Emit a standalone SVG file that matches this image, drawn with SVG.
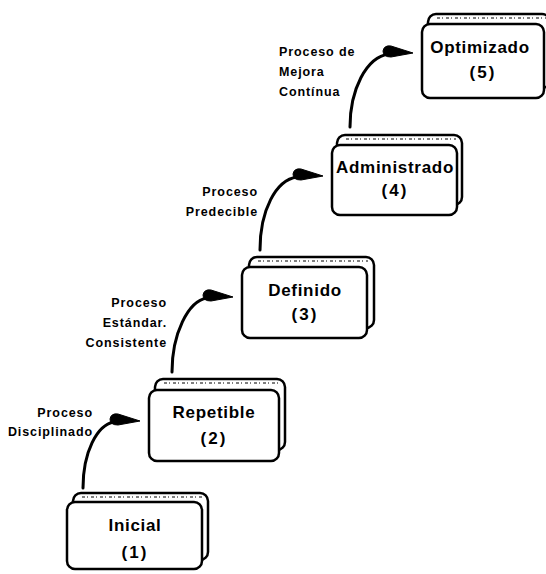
<svg xmlns="http://www.w3.org/2000/svg" width="546" height="574" viewBox="0 0 546 574">
<defs>
<style>
.bg{fill:#fff}
.back{fill:#fff;stroke:#000;stroke-width:2.5}
.speck{fill:none;stroke:#555;stroke-width:1.5;stroke-dasharray:3 2 1 3}
.front{fill:#fff;stroke:#000;stroke-width:2.5}
.title{font-family:"Liberation Sans",Arial,sans-serif;font-weight:bold;font-size:17px;letter-spacing:0.7px;text-anchor:middle;fill:#000}
.num{font-family:"Liberation Sans",Arial,sans-serif;font-weight:bold;font-size:17px;letter-spacing:2px;text-anchor:middle;fill:#000}
.lbl{font-family:"Liberation Sans",Arial,sans-serif;font-weight:bold;font-size:12.5px;letter-spacing:0.9px;fill:#000}
.end{text-anchor:end}
.curve{fill:none;stroke:#000;stroke-width:3;stroke-linecap:round}
.head{fill:#000;stroke:#000;stroke-width:1;stroke-linejoin:round}
</style>
</defs>
<rect class="bg" x="0" y="0" width="546" height="574"/>

<g id="connectors">
<path class="curve" d="M83,488 C83,452 97,425 114,422"/>
<path class="head" d="M140,421 L118,414 Q111,413 110,419 Q110,425 118,425 Z"/>
<path class="curve" d="M172,372 C172,334 188,301 207,298"/>
<path class="head" d="M233,297 L211,290 Q204,289 203,295 Q203,301 211,301 Z"/>
<path class="curve" d="M260,250 C260,210 276,180 297,177"/>
<path class="head" d="M323,176 L301,169 Q294,168 293,174 Q293,180 301,180 Z"/>
<path class="curve" d="M350,127 C350,90 366,57 389,54"/>
<path class="head" d="M413,53 L391,46 Q384,45 383,51 Q383,57 391,57 Z"/>
</g>

<g id="labels">
<text class="lbl end" x="93" y="417">Proceso</text>
<text class="lbl end" x="93" y="436">Disciplinado</text>
<text class="lbl end" x="167" y="307">Proceso</text>
<text class="lbl end" x="167" y="327">Estándar.</text>
<text class="lbl end" x="167" y="347">Consistente</text>
<text class="lbl end" x="258" y="196">Proceso</text>
<text class="lbl end" x="258" y="216">Predecible</text>
<text class="lbl" x="279" y="56">Proceso de</text>
<text class="lbl" x="279" y="76">Mejora</text>
<text class="lbl" x="279" y="96">Contínua</text>
</g>

<g id="inicial">
<rect class="back" x="73" y="493" width="135" height="67" rx="8"/>
<line class="speck" x1="82" y1="497" x2="202" y2="497"/>
<rect class="front" x="67" y="502" width="135" height="67" rx="8"/>
<text class="title" x="135" y="531">Inicial</text>
<text class="num" x="135" y="558">(1)</text>
</g>

<g id="repetible">
<rect class="back" x="155" y="379" width="130" height="71" rx="8"/>
<line class="speck" x1="164" y1="383" x2="279" y2="383"/>
<rect class="front" x="149" y="390" width="130" height="71" rx="8"/>
<text class="title" x="214" y="418">Repetible</text>
<text class="num" x="214" y="444">(2)</text>
</g>

<g id="definido">
<rect class="back" x="249" y="257" width="125" height="71" rx="8"/>
<line class="speck" x1="258" y1="261" x2="368" y2="261"/>
<rect class="front" x="242" y="267" width="125" height="71" rx="8"/>
<text class="title" x="305" y="296">Definido</text>
<text class="num" x="305" y="320">(3)</text>
</g>

<g id="administrado">
<rect class="back" x="337" y="135" width="125" height="70" rx="8"/>
<line class="speck" x1="346" y1="139" x2="456" y2="139"/>
<rect class="front" x="332" y="145" width="125" height="70" rx="8"/>
<text class="title" x="395" y="173">Administrado</text>
<text class="num" x="395" y="196">(4)</text>
</g>

<g id="optimizado">
<rect class="back" x="428" y="14" width="122" height="74" rx="8"/>
<line class="speck" x1="437" y1="18" x2="546" y2="18"/>
<rect class="front" x="422" y="24" width="122" height="74" rx="8"/>
<text class="title" x="480" y="53">Optimizado</text>
<text class="num" x="483" y="78">(5)</text>
</g>
</svg>
